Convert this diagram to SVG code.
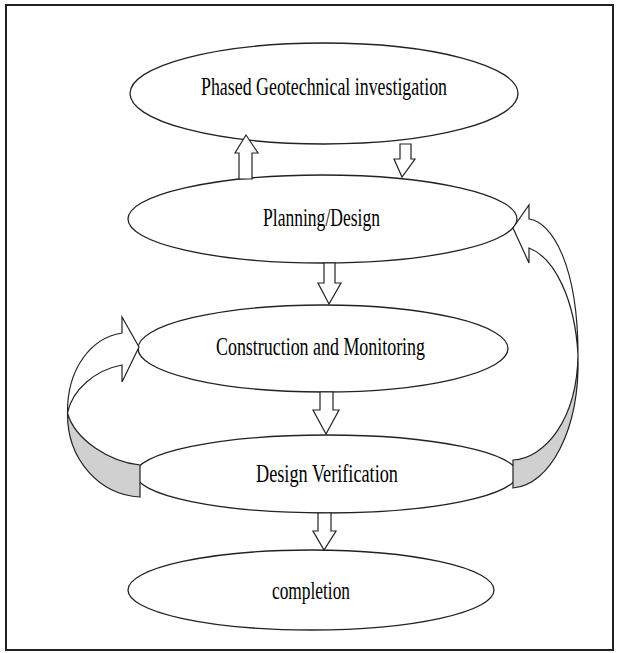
<svg xmlns="http://www.w3.org/2000/svg" width="617" height="653" viewBox="0 0 617 653">
<style>
.node ellipse{fill:#fff;stroke:#222;stroke-width:1.3}
.node text{font-family:"Liberation Serif","Times New Roman",serif;font-size:26px;fill:#000}
.arr{fill:#fff;stroke:#222;stroke-width:1.2;stroke-linejoin:miter}
.back{fill:#d0d0d0;stroke:#222;stroke-width:1.2}
</style>
<rect x="0" y="0" width="617" height="653" fill="#fff"/>
<rect x="6" y="5" width="607" height="645" fill="none" stroke="#222" stroke-width="2"/>
<g id="n1" class="node"><ellipse cx="324" cy="93.5" rx="194" ry="50.5"/><text x="201" y="95" textLength="246" lengthAdjust="spacingAndGlyphs">Phased Geotechnical investigation</text></g>
<g id="n2" class="node"><ellipse cx="322.5" cy="219" rx="194.5" ry="44"/><text x="263" y="226" textLength="117" lengthAdjust="spacingAndGlyphs">Planning/Design</text></g>
<g id="n3" class="node"><ellipse cx="323" cy="348.5" rx="185" ry="43.5"/><text x="216" y="355" textLength="209" lengthAdjust="spacingAndGlyphs">Construction and Monitoring</text></g>
<g id="n4" class="node"><ellipse cx="326.5" cy="474" rx="191" ry="39"/><text x="256" y="482" textLength="142" lengthAdjust="spacingAndGlyphs">Design Verification</text></g>
<g id="n5" class="node"><ellipse cx="311" cy="590" rx="183" ry="40"/><text x="272" y="599" textLength="78" lengthAdjust="spacingAndGlyphs">completion</text></g>
<g id="connectors">
<polygon class="arr" points="239,179 239,153 235,153 246,135 258,153 252,153 252,179"/>
<polygon class="arr" points="400,144 411,144 411,159 415,159 402,177 394,159 400,159"/>
<polygon class="arr" points="324,263 335,263 335,283 341,283 329,304 318,283 324,283"/>
<polygon class="arr" points="320,392 333,392 333,410 339,410 326,434 313,410 320,410"/>
<polygon class="arr" points="318,513 331,513 331,531 336,531 324,550 313,531 318,531"/>
<path class="arr" d="M122,333 L122,317 L139,347 L122,382 L122,365 C95,370 72,390 67.5,413 C67,370 90,338 122,333 Z"/>
<path class="back" d="M67.5,413 C67,460 100,495 140,497 L140,465 C110,462 75,440 67.5,413 Z"/>
<path class="arr" d="M529,219 L529,205 L513,228 L529,263 L529,248 C555,258 575,300 578,355 C578,265 552,222 529,219 Z"/>
<path class="back" d="M578,355 C580,430 550,485 513,488 L513,460 C545,458 577,420 578,355 Z"/>
</g>
</svg>
